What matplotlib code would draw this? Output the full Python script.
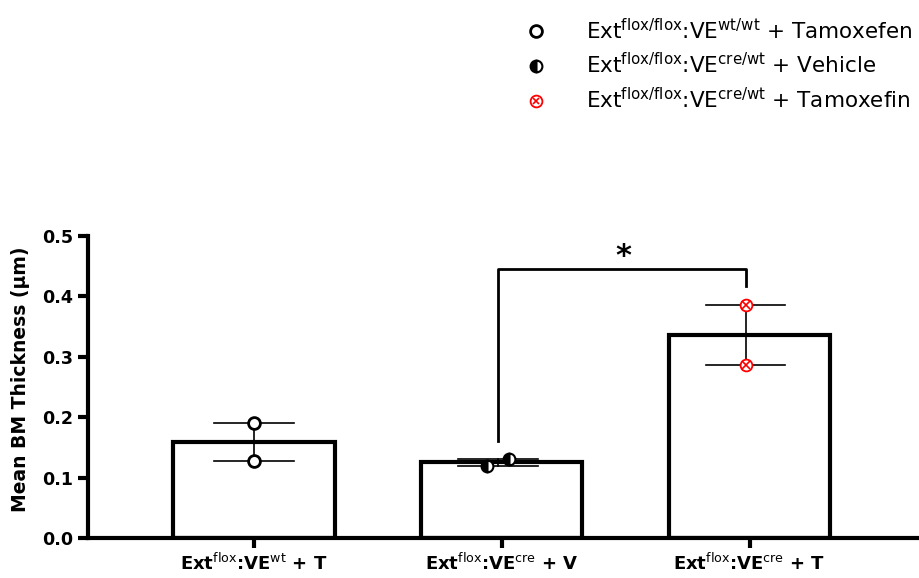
import numpy as np
import matplotlib
matplotlib.use("Agg")
import matplotlib.pyplot as plt
from matplotlib.lines import Line2D

plt.rcParams['font.family'] = ['DejaVu Sans']
plt.rcParams['mathtext.fontset'] = 'custom'
plt.rcParams['mathtext.rm'] = 'DejaVu Sans'
plt.rcParams['mathtext.sf'] = 'Liberation Sans Narrow'

# Data
groups = [r'Ext$^{\mathsf{flox}}$:VE$^{\mathsf{wt}}$ + T',
          r'Ext$^{\mathsf{flox}}$:VE$^{\mathsf{cre}}$ + V',
          r'Ext$^{\mathsf{flox}}$:VE$^{\mathsf{cre}}$ + T']
points = [[0.190, 0.127], [0.120, 0.131], [0.386, 0.286]]
point_offsets = [[0.0, 0.0], [-0.06, 0.03], [-0.015, -0.015]]
legend_labels = [r'Ext$^{\mathrm{flox/flox}}$:VE$^{\mathrm{wt/wt}}$ + Tamoxefen',
                 r'Ext$^{\mathrm{flox/flox}}$:VE$^{\mathrm{cre/wt}}$ + Vehicle',
                 r'Ext$^{\mathrm{flox/flox}}$:VE$^{\mathrm{cre/wt}}$ + Tamoxefin']
yticks = [0.0, 0.1, 0.2, 0.3, 0.4, 0.5]

means = [np.mean(p) for p in points]
x = np.arange(len(groups))

fig = plt.figure(figsize=(9.2, 5.78), dpi=100)
ax = fig.add_axes([88 / 920, 1 - 538 / 578, 830 / 920, 302 / 578])

ax.bar(x, means, width=0.65, color='white', edgecolor='black', linewidth=3, zorder=2)

# error bars spanning the points (range), then the points
for i, p in enumerate(points):
    cx = x[i] + np.mean(point_offsets[i])
    ax.plot([cx, cx], [min(p), max(p)], color='black', lw=1.2, zorder=3)
    for v in p:
        ax.plot([cx - 0.16, cx + 0.16], [v, v], color='black', lw=1.2, zorder=3)

ms = 8.5
for v, off in zip(points[0], point_offsets[0]):
    ax.plot(x[0] + off, v, 'o', mfc='white', mec='black', mew=2, ms=ms, zorder=4)
for v, off in zip(points[1], point_offsets[1]):
    ax.plot(x[1] + off, v, 'o', fillstyle='left', mfc='black', mfcalt='white',
            mec='black', mew=1.5, ms=ms, zorder=4)
for v, off in zip(points[2], point_offsets[2]):
    ax.plot(x[2] + off, v, 'o', mfc='white', mec='red', mew=1.3, ms=ms, zorder=4)
    ax.plot(x[2] + off, v, 'x', color='red', mew=1.2, ms=ms * 0.6, zorder=5)

# significance bracket
ax.plot([1 - 0.015, 1 - 0.015, 2 - 0.015, 2 - 0.015], [0.160, 0.445, 0.445, 0.417],
        color='black', lw=2, zorder=3)
ax.text(1.49, 0.466, '*', ha='center', va='center', fontsize=22, fontweight='bold')

ax.set_xlim(-0.67, 2.68)
ax.set_ylim(0, 0.5)
ax.set_yticks(yticks)
ax.set_yticklabels([f'{t:.1f}' for t in yticks], fontsize=12.6, fontweight='bold')
ax.set_xticks(x)
ax.set_xticklabels(groups, fontsize=13, fontweight='bold', family='Liberation Sans Narrow')
ax.set_ylabel('Mean BM Thickness (μm)', fontsize=13.5, fontweight='bold')
ax.yaxis.set_label_coords(-0.07, 0.527)
ax.tick_params(axis='both', width=3, length=7, direction='out')
for s in ['top', 'right']:
    ax.spines[s].set_visible(False)
for s in ['left', 'bottom']:
    ax.spines[s].set_linewidth(3)

h1 = Line2D([], [], ls='none', marker='o', mfc='white', mec='black', mew=2, ms=8.5)
h2 = Line2D([], [], ls='none', marker='o', fillstyle='left', mfc='black', mfcalt='white',
            mec='black', mew=1.5, ms=8.5)
h3a = Line2D([], [], ls='none', marker='o', mfc='white', mec='red', mew=1.3, ms=8.5)
h3b = Line2D([], [], ls='none', marker='x', color='red', mew=1.2, ms=5)
fig.legend([h1, h2, (h3a, h3b)], legend_labels, loc='upper left',
           bbox_to_anchor=(516.6 / 920, 1 - 9 / 578), frameon=False, fontsize=15.5,
           borderaxespad=0, handlelength=1.0, handletextpad=1.83, labelspacing=0.44)

fig.savefig('out.png', dpi=100)
